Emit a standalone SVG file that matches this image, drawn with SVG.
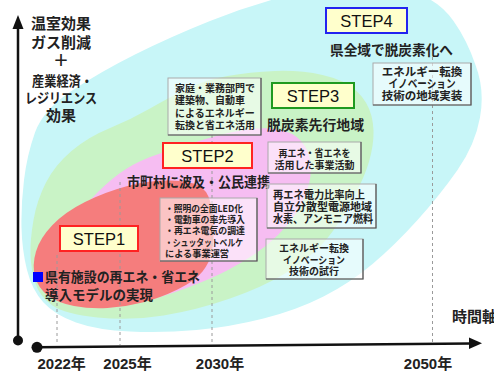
<svg xmlns="http://www.w3.org/2000/svg" width="494" height="372" viewBox="0 0 494 372">
<style>
.jp{font-family:"Noto Sans CJK JP","Noto Sans",sans-serif;font-weight:bold;fill:#222}
.lbl{font-size:13.6px}
.bx{font-size:10px}
.step{font-family:"Liberation Sans",Arial,sans-serif;font-size:16.5px;fill:#111;text-anchor:middle}
.yr{font-family:"Liberation Sans","Noto Sans CJK JP",sans-serif;font-weight:bold;font-size:15px;fill:#222;text-anchor:middle}
.sbox{fill:#ffffcc;stroke-width:2}
.nbox{fill:#ffffff;fill-opacity:0.55;stroke:#aaa;stroke-width:1}
.shd{fill:none;stroke:#555;stroke-width:1.2}
.dash{stroke:#9a9a9a;stroke-width:1;stroke-dasharray:3 3}
.ax{stroke:#111;stroke-width:2.5;fill:none}
</style>
<rect width="494" height="372" fill="#ffffff"/>
<g id="regions">
<path id="step4-area" fill="#c8f6f8" d="M71.5,91 Q100,72 135,54.5 Q170,37 210,21 Q250,5 290,-5 Q330,-15 365,-13.5 Q400,-12 420,-5 Q440,2 453.5,21 Q467,40 475.5,65 Q485,90 480,117.5 Q475,145 457.5,170 Q440,195 417.5,220 Q395,245 372.5,264 Q350,283 323.5,296.5 Q297,310 263.5,318.5 Q230,327 196.5,330 Q163,333 130,331.5 Q97,330 76,322.5 Q55,315 43.5,302.5 Q32,290 27,270 Q22,250 21.5,227.5 Q21,205 24,180 Q27,155 35,132.5 Q43,110 71.5,91 Z"/>
<path id="step3-area" fill="#c9f3c6" d="M150,108.5 Q170,97 187.5,88.5 Q205,80 227.5,76 Q250,72 275,71 Q300,70 322.5,75 Q345,80 356.5,91 Q368,102 371.5,116 Q375,130 372.5,146 Q370,162 363.5,177 Q357,192 345,212.5 Q333,233 320,246.5 Q307,260 285,273.5 Q263,287 230,298.5 Q197,310 163.5,315.5 Q130,321 97.5,317.5 Q65,314 52.5,305.5 Q40,297 35.5,283.5 Q31,270 30.5,255 Q30,240 33.5,220 Q37,200 46,182.5 Q55,165 71.5,151 Q88,137 109,128.5 Q130,120 150,108.5 Z"/>
<path id="step2-area" fill="#f6bdf2" d="M161.5,153 Q183,146 204,139.5 Q225,133 244,130 Q263,127 278,129.5 Q293,132 301,141 Q309,150 310.5,162.5 Q312,175 307.5,189 Q303,203 295.5,214 Q288,225 278,235 Q268,245 255.5,253.5 Q243,262 228,270 Q213,278 186.5,288 Q160,298 135,303.5 Q110,309 90,307.5 Q70,306 57.5,298 Q45,290 43.5,276 Q42,262 51,247 Q60,232 72.5,218.5 Q85,205 98.5,191.5 Q112,178 126,169 Q140,160 161.5,153 Z"/>
<path id="step1-area" fill="#f57d7d" d="M170,180.5 Q190,181 198.5,185.5 Q207,190 210,201 Q213,212 213.5,226 Q214,240 212,251 Q210,262 202.5,271.5 Q195,281 177.5,289.5 Q160,298 142.5,302.5 Q125,307 107.5,308 Q90,309 74,306 Q58,303 48,295.5 Q38,288 35,276.5 Q32,265 36,251.5 Q40,238 52.5,225 Q65,212 85,202 Q105,192 127.5,186 Q150,180 170,180.5 Z"/>
</g>
<g id="gridlines">
<line class="dash" x1="57" y1="255" x2="57" y2="345"/>
<line class="dash" x1="120" y1="182" x2="120" y2="345"/>
<line class="dash" x1="212" y1="135" x2="212" y2="344"/>
<line class="dash" x1="432.5" y1="57" x2="432.5" y2="343"/>
</g>
<g id="connectors">
<line class="ax" x1="18" y1="340" x2="18" y2="27"/>
<polygon points="18,15 12.5,29 23.5,29" fill="#111"/>
<circle cx="18" cy="340.5" r="5" fill="#111"/>
<line class="ax" x1="37" y1="347.3" x2="471" y2="343.4"/>
<polygon points="482,343.2 469,337.5 469,349" fill="#111"/>
<circle cx="37" cy="347.3" r="5.5" fill="#111"/>
</g>
<g id="axis-labels">
<text class="jp" x="61" y="29" font-size="15" text-anchor="middle">温室効果</text>
<text class="jp" x="61" y="47.5" font-size="15" text-anchor="middle">ガス削減</text>
<text class="jp" x="61" y="66" font-size="16" text-anchor="middle" font-weight="normal">＋</text>
<text class="jp" x="62.5" y="85.5" font-size="14" text-anchor="middle" textLength="61" lengthAdjust="spacingAndGlyphs">産業経済・</text>
<text class="jp" x="61" y="103" font-size="14" text-anchor="middle" textLength="72" lengthAdjust="spacingAndGlyphs">レジリエンス</text>
<text class="jp" x="61" y="120.5" font-size="15" text-anchor="middle">効果</text>
<text class="jp" x="452" y="322" font-size="15">時間軸</text>
<text class="yr" x="61.7" y="369">2022年</text>
<text class="yr" x="127.5" y="369">2025年</text>
<text class="yr" x="220" y="369">2030年</text>
<text class="yr" x="428" y="369">2050年</text>
</g>
<g id="step4">
<rect class="sbox" x="326" y="8" width="81" height="25" stroke="#2323f0"/>
<text class="step" x="366.5" y="26.5">STEP4</text>
<text class="jp lbl" x="330" y="55" textLength="123" lengthAdjust="spacingAndGlyphs">県全域で脱炭素化へ</text>
</g>
<g id="box-innovation-deploy">
<rect class="nbox" x="373" y="63" width="98" height="42"/>
<path class="shd" d="M471,63 V105 H373"/>
<text class="jp" font-size="11.5" x="422" y="76" text-anchor="middle">エネルギー転換</text>
<text class="jp" font-size="11.5" x="422" y="88" text-anchor="middle" textLength="67" lengthAdjust="spacingAndGlyphs">イノベーション</text>
<text class="jp" font-size="11.5" x="422" y="100" text-anchor="middle">技術の地域実装</text>
</g>
<g id="step3">
<rect class="sbox" x="272" y="83" width="82" height="25" stroke="#1f9a1f"/>
<text class="step" x="313" y="101.5">STEP3</text>
<text class="jp lbl" x="267" y="130" textLength="97" lengthAdjust="spacingAndGlyphs">脱炭素先行地域</text>
</g>
<g id="box-household">
<rect class="nbox" x="168" y="78" width="93" height="57"/>
<path class="shd" d="M261,78 V135 H168"/>
<text class="jp bx" x="175" y="92">家庭・業務部門で</text>
<text class="jp bx" x="175" y="104">建築物、自動車</text>
<text class="jp bx" x="175" y="116.5">によるエネルギー</text>
<text class="jp bx" x="175" y="129">転換と省エネ活用</text>
</g>
<g id="step2">
<rect class="sbox" x="163" y="143" width="89" height="25" stroke="#ff2222"/>
<text class="step" x="207.5" y="161.5">STEP2</text>
<text class="jp lbl" x="127" y="187" textLength="143" lengthAdjust="spacingAndGlyphs">市町村に波及・公民連携</text>
</g>
<g id="box-business">
<rect class="nbox" x="268" y="142" width="93" height="31"/>
<path class="shd" d="M361,142 V173 H268"/>
<text class="jp bx" x="314.5" y="157" text-anchor="middle" textLength="72" lengthAdjust="spacingAndGlyphs">再エネ・省エネを</text>
<text class="jp bx" x="314.5" y="168.5" text-anchor="middle">活用した事業活動</text>
</g>
<g id="box-ratio">
<rect class="nbox" x="267" y="184" width="109" height="44"/>
<path class="shd" d="M376,184 V228 H267"/>
<text class="jp" font-size="11" x="273" y="199" textLength="92" lengthAdjust="spacingAndGlyphs">再エネ電力比率向上</text>
<text class="jp" font-size="11" x="273" y="211" textLength="99" lengthAdjust="spacingAndGlyphs">自立分散型電源地域</text>
<text class="jp" font-size="11" x="273" y="223" textLength="100" lengthAdjust="spacingAndGlyphs">水素、アンモニア燃料</text>
</g>
<g id="box-innovation-trial">
<rect class="nbox" x="266" y="239" width="97" height="40"/>
<path class="shd" d="M363,239 V279 H266"/>
<text class="jp bx" x="314" y="252" text-anchor="middle">エネルギー転換</text>
<text class="jp bx" x="314" y="263.5" text-anchor="middle" textLength="62" lengthAdjust="spacingAndGlyphs">イノベーション</text>
<text class="jp bx" x="314" y="275" text-anchor="middle">技術の試行</text>
</g>
<g id="box-measures">
<rect class="nbox" x="160" y="198" width="97" height="63"/>
<path class="shd" d="M257,198 V261 H160"/>
<text class="jp" font-size="9.5" x="165" y="211.5" textLength="78" lengthAdjust="spacingAndGlyphs">・照明の全面LED化</text>
<text class="jp" font-size="9.5" x="165" y="222.5" textLength="80" lengthAdjust="spacingAndGlyphs">・電動車の率先導入</text>
<text class="jp" font-size="9.5" x="165" y="234" textLength="80" lengthAdjust="spacingAndGlyphs">・再エネ電気の調達</text>
<text class="jp" font-size="9.5" x="165" y="245.5" textLength="78" lengthAdjust="spacingAndGlyphs">・シュッタットベルケ</text>
<text class="jp" font-size="9.5" x="165" y="257" textLength="64" lengthAdjust="spacingAndGlyphs">による事業運営</text>
</g>
<g id="step1">
<rect class="sbox" x="60" y="226" width="78" height="25" stroke="#ff2222"/>
<text class="step" x="99" y="244.5">STEP1</text>
<rect x="33" y="272" width="10" height="10" fill="#0000ff"/>
<text class="jp lbl" x="45" y="282" textLength="155" lengthAdjust="spacingAndGlyphs">県有施設の再エネ・省エネ</text>
<text class="jp lbl" x="45" y="299.5" textLength="108" lengthAdjust="spacingAndGlyphs">導入モデルの実現</text>
</g>
</svg>
